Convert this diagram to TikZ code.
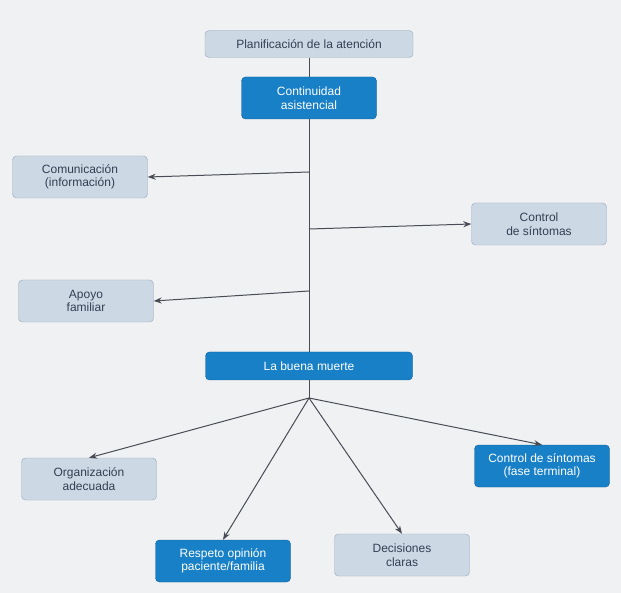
\documentclass[tikz,border=0pt]{standalone}
\usepackage{fontspec}
\setmainfont{Liberation Sans}
\definecolor{paleBox}{RGB}{204, 217, 229}
\definecolor{paleEdge}{RGB}{150, 168, 184}
\definecolor{mapBlue}{RGB}{24, 128, 198}
\definecolor{mapBlueDark}{RGB}{14, 92, 150}
\definecolor{lineGray}{RGB}{72, 76, 84}
\definecolor{inkBlue}{RGB}{52, 62, 82}
\definecolor{paper}{RGB}{240, 241, 243}
\usepackage{tikz}
\usetikzlibrary{positioning, arrows.meta}

\begin{document}
\begin{tikzpicture}[
          x=1pt, y=-1pt,
          box/.style={rectangle, rounded corners=4pt, minimum width=135pt, minimum height=42pt,
            align=center, font=\fontsize{12}{13.5}\selectfont, inner sep=2pt},
          pale/.style={box, fill=paleBox, draw=paleEdge, text=inkBlue},
          blue/.style={box, fill=mapBlue, draw=mapBlueDark, text=white},
          link/.style={lineGray, line width=1pt},
          arrow/.style={link, -{Stealth[length=8pt, width=6pt]}}
        ]
          % paper
          \fill[paper] (0,0) rectangle (621,593);

          % top chain
          \node[pale, minimum width=208pt, minimum height=27pt] (plan) at (309,44) {Planificación de la atención};
          \node[blue] (cont) at (309,98) {Continuidad\\asistencial};
          \node[blue, minimum width=207pt, minimum height=28pt] (muerte) at (309,366) {La buena muerte};

          % side boxes
          \node[pale] (com) at (80,177) {Comunicación\\(información)};
          \node[pale] (sint) at (539,224) {Control\\de síntomas};
          \node[pale] (apoyo) at (86,301) {Apoyo\\familiar};

          % bottom boxes
          \node[pale] (org) at (89,479) {Organización\\adecuada};
          \node[blue] (resp) at (223,561) {Respeto opinión\\paciente/familia};
          \node[pale] (dec) at (402,555) {Decisiones\\claras};
          \node[blue] (fase) at (542,466) {Control de síntomas\\(fase terminal)};

          % trunk
          \coordinate (t1) at (309,172);
          \coordinate (t2) at (309,229);
          \coordinate (t3) at (309,291);
          \coordinate (hub) at (309,398);
          \draw[link] (plan) -- (cont);
          \draw[link] (cont) -- (muerte);
          \draw[arrow] (t1) -- (com.east);
          \draw[arrow] (t2) -- (sint.west);
          \draw[arrow] (t3) -- (apoyo.east);

          % fan
          \draw[link] (muerte.south) -- (hub);
          \draw[arrow] (hub) -- (org.north);
          \draw[arrow] (hub) -- (resp.north);
          \draw[arrow] (hub) -- (dec.north);
          \draw[arrow] (hub) -- (fase.north);
        \end{tikzpicture}
\end{document}
